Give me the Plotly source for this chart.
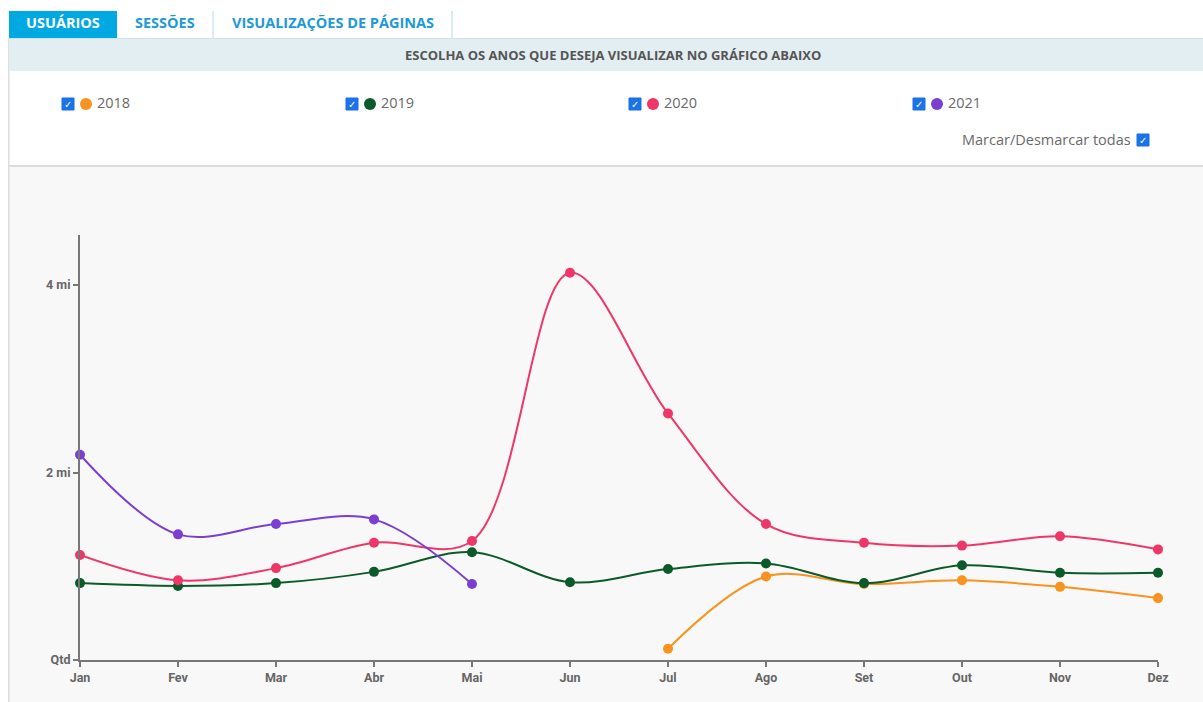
import plotly.graph_objects as go

W, H = 1203, 702

months = ["Jan", "Fev", "Mar", "Abr", "Mai", "Jun", "Jul", "Ago", "Set", "Out", "Nov", "Dez"]
y_tick_vals = [0, 2, 4]
y_tick_text = ["Qtd", "2 mi", "4 mi"]

years = ["2018", "2019", "2020", "2021"]
colors = ["#f7931e", "#0b5a2a", "#ee3768", "#7a3fd2"]

# values in millions of users
v2018 = [None, None, None, None, None, None, 0.12, 0.89, 0.81, 0.85, 0.78, 0.66]
v2019 = [0.82, 0.79, 0.82, 0.94, 1.15, 0.83, 0.97, 1.03, 0.82, 1.01, 0.93, 0.93]
v2020 = [1.12, 0.85, 0.98, 1.25, 1.27, 4.13, 2.63, 1.45, 1.25, 1.22, 1.32, 1.18]
v2021 = [2.19, 1.34, 1.45, 1.50, 0.81, None, None, None, None, None, None, None]
series = [v2018, v2019, v2020, v2021]


def px(x):
    return x / W


def py(y):
    return 1 - y / H


fig = go.Figure()
xs = list(range(len(months)))
for name, vals, col in zip(years, series, colors):
    fig.add_trace(go.Scatter(
        x=xs, y=vals, name=name, mode="lines+markers",
        line=dict(color=col, width=2, shape="spline", smoothing=1.0),
        marker=dict(color=col, size=10),
        cliponaxis=False, showlegend=False, connectgaps=False,
    ))

shapes = []
annotations = []


def text(t, x, y, size, color, bold=False, xanchor="center", family="Open Sans"):
    if bold:
        t = "<b>%s</b>" % t
    annotations.append(dict(text=t, x=px(x), y=py(y), xref="paper", yref="paper",
                            xanchor=xanchor, yanchor="middle", showarrow=False,
                            font=dict(family=family, size=size, color=color)))


# chart background area
shapes.append(dict(type="rect", xref="paper", yref="paper", x0=px(8), x1=px(W), y0=py(H), y1=py(166),
                   fillcolor="#f8f8f8", line=dict(width=0), layer="below"))
# separator above chart
shapes.append(dict(type="line", xref="paper", yref="paper", x0=px(8), x1=px(W), y0=py(166), y1=py(166),
                   line=dict(color="#dcdcdc", width=2), layer="below"))
# left border
shapes.append(dict(type="line", xref="paper", yref="paper", x0=px(8.8), x1=px(8.8), y0=py(38), y1=py(H),
                   line=dict(color="#dddddd", width=1.5), layer="below"))
# header bar
shapes.append(dict(type="rect", xref="paper", yref="paper", x0=px(9), x1=px(W), y0=py(71), y1=py(38),
                   fillcolor="#e3eef3", line=dict(width=0), layer="below"))
shapes.append(dict(type="line", xref="paper", yref="paper", x0=px(9), x1=px(W), y0=py(38.5), y1=py(38.5),
                   line=dict(color="#cfe3ec", width=1), layer="below"))
# active tab
shapes.append(dict(type="rect", xref="paper", yref="paper", x0=px(9), x1=px(117), y0=py(38), y1=py(11),
                   fillcolor="#00a9e2", line=dict(width=0), layer="below"))
# tab dividers
for xd in [213, 452]:
    shapes.append(dict(type="line", xref="paper", yref="paper", x0=px(xd), x1=px(xd), y0=py(38), y1=py(11),
                       line=dict(color="#cfe6f1", width=1.5), layer="below"))

text("USUÁRIOS", 63, 23, 14.5, "white", bold=True)
text("SESSÕES", 165, 23, 14.5, "#1e9ad6", bold=True)
text("VISUALIZAÇÕES DE PÁGINAS", 333, 23, 14.5, "#1e9ad6", bold=True)
text("ESCOLHA OS ANOS QUE DESEJA VISUALIZAR NO GRÁFICO ABAIXO", 613, 55, 13, "#555555", bold=True)


def checkbox(x0, yc):
    shapes.append(dict(type="rect", xref="paper", yref="paper", x0=px(x0), x1=px(x0 + 12),
                       y0=py(yc + 6), y1=py(yc - 6), fillcolor="#1a73e8", line=dict(color="#1a6fe0", width=1)))
    text("✓", x0 + 6, yc, 10, "white", bold=True, family="DejaVu Sans")


legend_x = [62, 346, 629, 913]
for lx, name, col in zip(legend_x, years, colors):
    checkbox(lx, 104)
    cx = lx + 24
    shapes.append(dict(type="circle", xref="paper", yref="paper", x0=px(cx - 6), x1=px(cx + 6),
                       y0=py(110), y1=py(98), fillcolor=col, line=dict(width=0)))
    text(name, lx + 33, 103, 14.5, "#6a6a6a", xanchor="left")

text("Marcar/Desmarcar todas", 1133, 139, 14.5, "#6a6a6a", xanchor="right")
checkbox(1137, 140)

axis_font = dict(family="Liberation Sans Narrow, Roboto, Arial Narrow", size=12.5, color="#666666")

fig.update_layout(
    width=W, height=H,
    margin=dict(l=0, r=0, t=0, b=0, pad=0),
    paper_bgcolor="white",
    plot_bgcolor="#f8f8f8",
    shapes=shapes,
    annotations=annotations,
    xaxis=dict(domain=[px(80), px(1158)], range=[0, 11], tickmode="array", tickvals=xs,
               ticktext=["<b>%s</b>" % m for m in months], showgrid=False, zeroline=False,
               showline=True, linecolor="#777777", linewidth=2, ticks="outside", ticklen=5,
               tickcolor="#777777", tickwidth=1.5, tickfont=axis_font, fixedrange=True,
               automargin=False),
    yaxis=dict(domain=[py(660), py(235)], range=[0, (660 - 235) / 93.75], tickmode="array",
               tickvals=y_tick_vals, ticktext=["<b>%s</b>" % t for t in y_tick_text],
               showgrid=False, zeroline=False, showline=True, linecolor="#777777", linewidth=2,
               ticks="outside", ticklen=5, tickcolor="#777777", tickwidth=1.5, tickfont=axis_font,
               fixedrange=True, automargin=False),
)

fig.write_html("out.html")
